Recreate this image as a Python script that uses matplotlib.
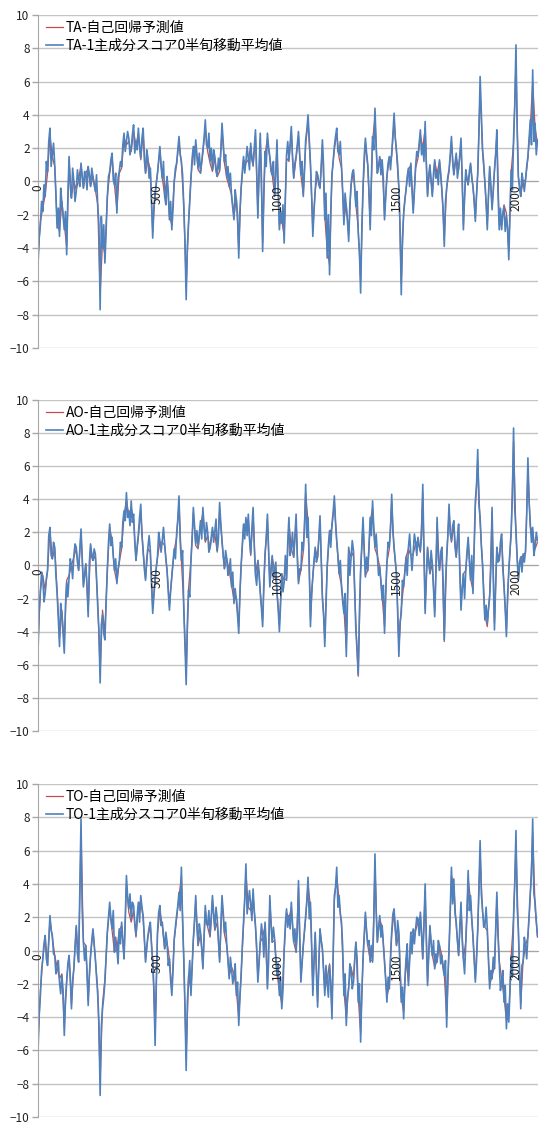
import matplotlib
matplotlib.use('Agg')
import matplotlib.pyplot as plt
import numpy as np

plt.rcParams['font.family'] = ['Noto Sans CJK JP', 'DejaVu Sans']

# index step of the values
blue_step = 5
red_step = 10

ta_blue = [
    -5.0, -3.4, -2.6, -1.2, -1.8, -0.2, -0.9, 1.2, 0.6, 2.4, 3.2, 0.9, 1.6, 2.3, 1.0, -0.8, -2.8, -1.6, -3.3, -0.4,
    -1.3, -2.1, -2.9, -1.8, -4.4, -0.9, 1.5, -0.3, -1.0, 0.8, 0.0, -1.2, -0.6, 0.7, 0.1, -0.3, 1.1, 0.3, -0.4, 0.6,
    0.5, -0.5, 0.9, 0.4, -0.3, 0.8, 0.3, -0.2, -0.6, 0.4, -1.5, -2.6, -7.7, -2.1, -4.0, -2.6, -4.9, -3.0, -1.0, 0.3,
    0.6, 1.3, 1.7, 0.1, -0.2, 0.5, -1.9, 0.2, 0.6, 1.2, 0.9, 2.2, 2.9, 1.8, 2.4, 3.0, 2.6, 1.6, 2.0, 2.8,
    3.4, 1.7, 2.4, 1.9, 3.2, 2.1, 1.4, 2.6, 3.2, 1.3, 0.5, 1.9, 1.4, 0.2, 0.8, -1.3, -3.4, -1.5, -0.8, -0.1,
    0.5, 1.3, 2.1, 0.9, 0.2, 1.2,
    -0.9, -1.4, 0.3, -0.6, -2.3, -1.2, -2.9, -1.6, 0.0, 0.8, 1.1, 1.9, 2.7, 1.6, 1.2, 0.4, -1.5, -3.6, -7.1, -3.9,
    -2.6, -1.2, 0.2, 1.4, 2.1, 1.0, 2.5, 1.6, 0.8, 1.7, 0.5, 1.2, 1.9, 2.6, 3.7, 2.2, 2.0, 2.9, 1.2, 2.0,
    0.7, 1.9, 1.5, 0.6, 0.3, 1.4, 0.7, 1.8, 3.5, 2.3, 1.2, 1.6, 0.2, 0.9, -0.3, 0.5, -0.9, -1.6, -2.3, -0.5,
    -1.1, -2.0, -4.6, -1.7, -0.4, 0.6, 1.5, 0.5, 1.2, 2.1, 1.4, 0.7, 2.3, 1.3, 1.0, 2.0, 3.1, 0.6, -2.2, 0.8,
    2.9, 0.2, -4.2, -0.6, 1.8, 0.9, 2.9, 2.0, 1.5, 0.6, 0.4, 1.2, -0.9, 0.3, 2.5, -0.6, -2.9, -1.8, -2.5, -1.4,
    -3.7, -1.0,
    1.6, 2.4, 1.3, 2.2, 3.3, 1.4, 0.2, 1.1, 1.5, 2.2, 3.0, 1.6, 0.4, 1.2, -0.9, 0.6, 2.5, 3.1, 4.0, 2.6,
    1.1, -0.8, -3.3, -1.7, -0.6, 0.6, 0.4, -0.2, -0.4, 0.8, 2.5, 0.9, -2.3, -0.7, -4.6, -2.0, -5.6, -1.8, 0.4, 1.2,
    2.1, 2.7, 3.2, 1.8, 1.6, 2.4, 0.9, -0.6, -2.6, -0.7, -1.5, -2.4, -3.6, -1.4, -0.2, 0.5, 0.7, -0.3, -1.5, -0.6,
    -3.1, -4.2, -6.7, -2.9, -0.4, 1.5, 2.6, 1.7, 1.0, -0.6, -2.9, 0.2, 2.7, 1.9, 4.4, 2.1, 0.5, 0.9, 1.5, 0.4,
    1.3, 0.2, -2.3, -0.9, 0.3, 1.1, 1.5, 0.7, 1.7, 2.8, 4.1, 2.6, 1.9, 1.0, -0.4, -2.7, -6.8, -3.4, -2.0, -1.1,
    -0.5, 0.3, 0.8, -0.3, 1.1, -0.5,
    -1.9, -0.6, 0.9, 1.8, 1.5, 2.3, 3.1, 1.6, 2.2, 1.2, 3.6, 1.0, -0.9, 0.4, 1.0, 0.0, -0.9, 0.5, 1.3, 0.2,
    0.6, -0.2, 1.3, 0.5, -0.6, -1.6, -3.9, -1.2, -0.4, 0.3, 0.7, 1.6, 2.7, 1.2, 0.4, 1.1, 1.7, 0.2, 0.8, 1.6,
    2.6, 0.3, -2.9, -0.9, 0.7, 0.1, -0.2, 0.6, 1.1, 0.2, -0.3, -1.1, -2.4, -0.8, 0.5, 2.9, 6.3, 4.2, 2.0, 1.1,
    -0.1, -1.2, -2.9, -0.8, 0.9, -0.3, -1.7, -0.6, 0.7, 1.6, 3.1, -0.8, -2.9, -1.6, -2.9, -1.9, -1.5, -3.0, -2.1, -2.8,
    -4.7, -1.8, 0.7, -0.5, 2.6, 4.6, 8.2, 3.0, 0.3, -0.4, -0.9, 0.5, 0.0, -0.6, 0.1, 0.9, 1.5, 2.6, 3.7, 2.2,
    6.7, 2.4, 3.5, 1.6, 2.5,
]
ta_red = [
    -4.6, -2.4, -1.6, -0.8, 0.5, 2.8, 1.5, 0.9, -2.5, -3.0,
    -1.2, -2.6, -3.9, 1.3, -0.9, 0.0, -0.5, 0.1, 1.0, -0.4,
    0.5, 0.8, -0.3, 0.3, -0.5, -1.4, -6.8, -3.6, -4.4, -0.9,
    0.5, 1.5, -0.2, -1.7, 0.5, 0.8, 2.6, 2.2, 2.4, 1.8,
    3.0, 2.2, 2.9, 1.3, 2.9, 0.5, 1.3, 0.7, -3.0, -0.7,
    0.5, 1.9, 0.2,
    -0.8, 0.3, -2.1, -2.6, 0.0, 1.0, 2.4, 1.1, -1.4, -6.3,
    -2.4, 0.2, 1.9, 2.2, 0.7, 0.5, 1.7, 3.3, 1.8, 1.1,
    0.6, 1.4, 0.3, 0.6, 3.1, 1.1, 0.2, -0.3, -0.8, -2.1,
    -1.0, -4.1, -0.4, 1.3, 1.1, 1.3, 2.1, 0.9, 2.8, -2.0,
    2.6, -3.7, 1.6, 2.6, 1.4, 0.4, -0.8, 2.2, -2.6, -2.3,
    -3.3,
    1.4, 1.2, 3.0, 0.2, 1.4, 2.7, 0.4, -0.8, 2.2, 3.6,
    1.0, -3.0, -0.5, 0.4, -0.4, 2.2, -2.1, -4.1, -5.0, 0.4,
    1.9, 2.9, 1.4, 0.8, -2.3, -1.4, -3.2, -0.2, 0.6, -1.4,
    -2.8, -6.0, -0.4, 2.3, 0.9, -2.6, 2.4, 3.9, 0.5, 1.4,
    1.2, -2.1, 0.3, 1.4, 1.5, 3.7, 1.7, -0.4, -6.1, -1.8,
    -0.5, 0.7, 1.0,
    -1.7, 0.8, 1.4, 2.8, 2.0, 3.2, -0.8, 0.9, -0.8, 1.2,
    0.5, 1.2, -0.5, -3.5, -0.4, 0.6, 2.4, 0.4, 1.5, 0.7,
    2.3, -2.6, 0.6, -0.2, 1.0, -0.3, -2.2, 0.5, 5.6, 1.8,
    -0.1, -2.6, 0.8, -1.5, 0.6, 2.8, -2.6, -2.6, -1.4, -1.9,
    -4.2, 0.6, 2.3, 7.3, 0.3, -0.8, 0.0, 0.1, 1.4, 3.3,
    6.0, 3.2, 2.3,
]

ao_blue = [
    -5.2, -2.8, -1.6, -0.4, -0.7, -2.2, -1.7, -0.8, -0.3, 1.8, 2.3, 0.6, 0.4, 1.4, 1.1, -0.6, -1.7, -3.2, -4.9, -2.3,
    -3.0, -4.1, -5.3, -2.4, -1.0, -1.9, -0.7, 0.4, 0.0, -0.8, 0.6, 1.3, 1.1, 0.2, -0.3, 0.9, 2.2, 0.4, -1.3, -0.6,
    0.1, -1.2, -3.1, 0.2, 1.3, 0.5, 0.3, 1.0, 0.7, -0.8, -2.5, -3.9, -7.1, -3.6, -3.0, -4.1, -4.5, -2.2, -0.3, 1.4,
    2.5, 1.2, 1.7, 0.6, -0.3, 0.4, -1.1, -0.2, 0.2, 1.4, 1.1, 2.6, 3.3, 2.7, 4.4, 2.9, 3.3, 2.4, 3.9, 2.6,
    3.1, 1.4, 0.3, 1.2, 1.9, 2.9, 3.7, 1.8, 0.9, -0.2, -0.9, 0.4, 1.1, 1.8, 0.9, -1.1, -2.9, -1.8, -0.9, -0.1,
    0.5, 2.0, 1.5, 0.8, 1.5, 2.3,
    1.3, 0.4, -0.3, -1.6, -2.7, -1.5, -0.7, 0.2, 1.0, 0.4, 1.9, 2.8, 4.2, 1.4, 0.3, 0.9, -2.7, -4.8, -7.2, -3.5,
    -1.5, -1.9, 0.3, 1.6, 3.5, 2.4, 1.3, 2.1, 1.1, 1.9, 2.7, 1.6, 3.5, 2.3, 1.5, 2.6, 2.0, 0.8, 1.1, 1.7,
    2.3, 1.4, 2.1, 2.8, 0.9, 1.6, 3.8, 2.5, 1.5, 0.6, -0.2, 0.9, 0.4, -0.6, -0.3, 0.4, -1.3, -0.4, -2.3, -1.4,
    -2.1, -3.0, -4.1, -1.6, 0.0, 1.3, 2.5, 1.6, 2.9, 1.8, 3.1, 1.6, 0.7, 2.2, 3.5, 1.2, -0.6, -1.2, 0.3, -0.4,
    -1.7, -2.6, -3.7, -1.1, 0.7, 1.6, 3.1, 0.9, -1.3, -0.2, 0.6, -0.8, -0.3, 0.2, -1.7, -2.6, -4.0, -2.4, -0.5, -1.6,
    -1.0, 0.6,
    -0.9, 1.4, 2.9, 0.6, 1.1, 2.0, 0.5, 1.7, 3.1, 0.4, -1.1, -0.2, -0.3, 1.4, 0.9, 2.2, 4.9, 1.7, 2.9, 0.1,
    -3.7, -1.6, -0.7, 0.3, 1.1, 0.2, 0.5, 1.6, 3.0, 0.6, -2.0, -2.9, -4.9, -2.4, -0.1, 1.2, 2.1, 1.1, 2.5, 3.2,
    4.2, 2.6, 1.5, 0.6, -0.5, 0.3, -1.3, -2.2, -2.9, -1.7, -5.5, -2.1, 1.1, -0.6, 0.5, 1.5, 0.9, -1.6, -3.9, -5.1,
    -6.6, -2.8, -0.3, 1.2, 2.9, 0.9, -0.7, 0.5, -0.3, 1.1, 2.9, 1.8, 3.9, 2.2, 1.1, 1.9, 0.7, -0.6, -0.1, -1.0,
    -2.1, -1.2, -4.1, -1.6, 0.2, 1.4, 1.1, 2.2, 4.3, 2.0, 1.1, 0.3, -0.5, -2.8, -5.5, -3.4, -2.9, -0.9, -1.3, -0.4,
    0.5, -0.6, 1.1, 1.9, 0.7, -0.3,
    0.8, 1.9, 1.4, 0.6, 1.7, 1.2, 0.9, 1.8, 4.9, 0.8, -2.9, -0.7, 1.1, 0.2, -0.5, 0.9, 0.1, -1.4, -3.1, -0.6,
    2.9, 0.4, -0.3, 0.8, 1.1, -0.8, -4.5, -1.2, 0.5, 1.8, 3.7, 1.9, 1.5, 2.4, 2.7, 1.1, 0.5, 1.6, 2.5, -0.4,
    -2.7, -1.4, -0.5, -2.0, -0.3, 0.8, 1.7, 0.3, -0.9, 0.6, -1.7, 1.2, 3.9, 4.8, 7.0, 3.6, 2.9, 1.2, 0.1, -1.8,
    -3.3, -2.4, -3.5, -2.6, -1.9, -0.2, 3.5, -0.8, -3.9, -1.2, 1.1, 0.2, 0.3, 1.4, 1.9, -0.2, -1.3, -2.6, -4.3, -1.8,
    -0.3, 0.9, 2.1, 4.2, 8.3, 3.4, 2.1, 0.4, -0.9, 0.2, 0.5, -0.4, 0.7, 0.2, 0.9, 3.1, 6.5, 3.8, 2.5, 1.4,
    2.3, 0.6, 1.1, 2.0, 1.5,
]
ao_red = [
    -4.7, -1.5, -0.6, -1.5, -0.3, 2.1, 0.4, 1.0, -1.5, -4.4,
    -2.7, -4.8, -0.9, -0.6, 0.0, 0.5, 1.0, -0.3, 2.0, -1.2,
    0.1, -2.8, 1.2, 0.3, 0.6, -2.3, -6.5, -2.7, -4.1, -0.3,
    2.3, 1.5, -0.3, -1.0, 0.2, 1.0, 3.0, 4.0, 3.0, 3.5,
    2.8, 0.3, 1.7, 3.3, 0.8, -0.8, 1.0, 0.8, -2.6, -0.8,
    0.5, 1.4, 1.4,
    1.2, -0.3, -2.4, -0.6, 0.9, 1.7, 3.8, 0.3, -2.4, -6.6,
    -1.4, 0.3, 3.2, 1.2, 1.0, 2.4, 3.2, 1.4, 1.8, 1.0,
    2.1, 1.9, 0.8, 3.4, 1.4, -0.2, 0.4, -0.3, -1.2, -2.1,
    -1.9, -3.7, 0.0, 2.3, 2.6, 2.8, 0.6, 3.2, -0.5, 0.3,
    -1.5, -3.3, 0.6, 2.8, -1.2, 0.5, -0.3, -1.5, -3.6, -0.5,
    -0.9,
    -0.8, 2.6, 1.0, 0.5, 2.8, -1.0, -0.3, 0.8, 4.4, 2.6,
    -3.3, -0.6, 1.0, 0.5, 2.7, -1.8, -4.4, -0.1, 1.9, 2.3,
    3.8, 1.4, -0.5, -1.2, -2.6, -5.0, 1.0, 0.5, 0.8, -3.5,
    -6.7, -0.3, 2.6, -0.6, -0.3, 2.6, 3.5, 1.0, 0.6, -0.1,
    -1.9, -3.7, 0.2, 1.0, 3.9, 1.0, -0.5, -5.0, -2.6, -1.2,
    0.5, 1.0, 0.6,
    0.7, 1.3, 1.5, 0.8, 4.4, -2.6, 1.0, -0.5, 0.1, -2.8,
    2.6, -0.3, 1.0, -4.6, 0.5, 3.3, 1.4, 2.4, 0.5, 2.3,
    -2.4, -0.5, -0.3, 1.5, -0.8, -1.5, 3.5, 6.3, 2.6, 0.1,
    -3.0, -3.7, -1.7, 3.2, -3.5, 1.0, 0.3, 1.7, -1.2, -3.9,
    -0.3, 1.9, 7.5, 1.9, -0.8, 0.5, 0.6, 0.8, 5.9, 2.3,
    2.1, 1.0, 1.4,
]

to_blue = [
    -6.1, -3.9, -2.7, -1.2, -0.5, 0.4, 0.9, -0.5, -0.9, 0.6, 2.1, 1.2, 0.9, -0.2, -0.3, -1.4, -1.1, -0.6, -1.9, -2.6,
    -1.5, -2.4, -5.1, -3.0, -1.9, -0.8, -0.3, -1.6, -3.5, -1.8, -1.1, 0.2, 1.5, -0.2, -0.7, 3.6, 7.9, 2.4, 0.5, -0.6,
    0.3, -1.2, -3.3, -1.4, -0.3, 0.6, 1.3, 0.4, -0.5, -1.6, -2.7, -4.3, -8.7, -4.6, -3.5, -2.8, -1.9, -0.4, 1.1, 2.0,
    2.9, 1.9, 1.3, 2.4, -0.1, 0.8, 0.1, -0.8, 1.3, 0.4, 1.7, 0.6, -0.5, 1.8, 4.5, 3.2, 2.5, 3.4, 1.9, 2.9,
    2.7, 1.6, 0.9, 2.1, 2.9, 1.7, 3.3, 2.6, 2.1, 0.8, -0.7, 0.2, 0.9, 1.4, 1.7, 0.3, -0.7, -2.2, -5.7, -2.0,
    1.1, 2.3, 2.7, 1.5, 1.7, 0.9,
    0.1, 1.1, 0.5, -0.9, -0.5, -1.8, -2.7, -1.2, 0.7, 1.4, 2.1, 2.7, 3.5, 2.4, 5.0, 1.8, -0.5, -3.4, -7.2, -3.1,
    -1.7, -0.6, -2.7, -1.0, 0.7, 1.8, 3.3, 1.4, 0.3, 1.6, 1.1, 0.2, -1.1, 0.9, 2.7, 1.6, 1.5, 2.4, 0.9, 2.0,
    3.3, 2.2, 1.3, 2.6, 1.9, 0.6, -0.7, 1.4, 3.3, 2.3, 1.1, 1.7, 0.3, -0.6, -1.7, -0.4, -1.1, -2.0, -1.5, -0.8,
    -2.7, -1.9, -4.5, -2.8, -1.5, 0.3, 1.7, 3.1, 5.2, 2.2, 2.9, 3.6, 2.7, 1.8, 3.7, 2.4, 1.5, 0.3, -1.9, -0.8,
    0.5, 1.6, 0.9, -0.4, 1.7, 0.3, -2.3, -0.6, 3.3, 1.6, 0.5, 1.4, 0.7, -0.4, -1.5, -0.8, -2.7, -1.6, -3.5, -2.4,
    0.0, 1.6,
    2.5, 1.4, 2.1, 1.3, 2.9, 1.6, 0.5, 1.3, -0.1, 1.1, 4.2, 0.9, -1.9, -0.8, 0.3, 1.2, 2.1, 3.0, 4.4, 1.9,
    2.9, 0.4, -2.7, -0.6, 1.1, -1.4, -3.4, -0.8, 1.3, 0.6, 0.1, -1.2, -2.7, -0.9, -1.9, -2.8, -0.9, -1.9, -4.1, -0.4,
    3.3, 3.8, 5.0, 2.6, 3.3, 2.2, 1.7, 0.2, -2.7, -1.4, -4.5, -2.8, -2.3, -0.8, -1.1, -2.3, -1.9, -0.6, 0.5, -0.4,
    -3.1, -2.0, -5.5, -2.6, -0.5, 0.9, 2.3, 1.1, 0.3, 0.6, -0.7, 0.3, -0.7, 1.6, 5.8, 2.3, 0.5, 1.4, 2.1, 0.8,
    1.5, 0.4, -0.7, -1.8, -3.1, -1.6, -2.3, -0.4, 1.1, 2.2, 2.5, 1.3, 0.3, 1.8, 1.1, -1.2, -3.1, -2.2, -4.1, -1.8,
    -0.5, 0.4, -2.1, -0.6, 1.1, -0.2,
    1.3, 0.4, 1.3, 2.0, 1.9, 0.9, 2.3, 1.1, -0.5, 1.6, 4.0, 0.6, -2.1, -0.2, 1.5, 0.4, -0.3, 0.6, -1.1, -0.2,
    -0.7, 0.6, 0.3, -0.8, -0.3, -1.1, -1.5, -0.6, -4.6, -1.6, 0.1, 2.4, 5.0, 2.8, 4.3, 2.2, 1.7, 0.6, -0.3, 1.4,
    2.9, 0.6, -0.5, -1.4, 0.5, 2.2, 4.8, 2.4, 3.3, 1.9, 0.9, -0.5, -1.9, -0.6, 1.3, 3.8, 6.6, 3.4, 2.5, 1.4,
    1.5, 2.6, 1.3, -0.6, -2.3, -1.2, -1.7, -0.4, -1.1, 1.3, 3.5, 0.8, -0.7, -2.4, -1.9, -1.2, -3.1, -2.1, -4.7, -3.2,
    -4.3, -2.4, -0.3, -1.6, 2.1, 4.1, 7.2, 2.6, 1.3, -1.4, -3.5, -0.9, -0.7, 0.8, 0.3, -0.5, 0.9, 2.1, 3.5, 4.6,
    7.9, 3.4, 2.9, 1.8, 0.9,
]
to_red = [
    -5.5, -2.4, -0.5, 0.8, -0.8, 1.9, 0.8, -0.3, -1.0, -1.7,
    -1.4, -4.6, -1.7, -0.3, -3.2, -1.0, 1.4, -0.6, 7.1, 0.5,
    0.3, -3.0, -0.3, 1.2, -0.5, -2.4, -7.8, -3.2, -1.7, 1.0,
    2.6, 1.2, -0.1, 0.1, 1.2, 1.5, -0.5, 4.0, 2.3, 1.7,
    2.4, 0.8, 2.6, 3.0, 1.9, -0.6, 0.8, 1.5, -0.6, -5.1,
    1.0, 2.4, 1.5,
    0.1, 0.5, -0.5, -2.4, 0.6, 1.9, 3.2, 4.5, -0.5, -6.5,
    -1.5, -2.4, 0.6, 3.0, 0.3, 1.0, -1.0, 2.4, 1.4, 0.8,
    3.0, 1.2, 1.7, -0.6, 3.0, 1.0, 0.3, -1.5, -1.0, -1.4,
    -2.4, -4.1, -1.4, 1.5, 4.7, 2.6, 2.4, 3.3, 1.4, -1.7,
    0.5, 0.8, 1.5, -2.1, 3.0, 0.5, 0.6, -1.4, -2.4, -3.2,
    0.0,
    2.3, 1.9, 2.6, 0.5, -0.1, 3.8, -1.7, 0.3, 1.9, 4.0,
    2.6, -2.4, 1.0, -3.1, 1.2, 0.1, -2.4, -1.7, -0.8, -3.7,
    3.0, 4.5, 3.0, 1.5, -2.4, -4.1, -2.1, -1.0, -1.7, 0.5,
    -2.8, -5.0, -0.5, 2.1, 0.3, -0.6, -0.6, 5.2, 0.5, 1.9,
    1.4, -0.6, -2.8, -2.1, 1.0, 2.3, 0.3, 1.0, -2.8, -3.7,
    -0.5, -1.9, 1.0,
    1.2, 1.2, 1.7, 2.1, -0.5, 3.6, -1.9, 1.4, -0.3, -1.0,
    -0.6, 0.3, -0.3, -1.4, -4.1, 0.1, 4.5, 3.9, 1.5, -0.3,
    2.6, -0.5, 0.5, 4.3, 3.0, 0.8, -1.7, 1.2, 5.9, 2.3,
    1.4, 1.2, -2.1, -1.5, -1.0, 3.2, -0.6, -1.7, -2.8, -4.2,
    -3.9, -0.3, 1.9, 6.5, 1.2, -3.2, -0.6, 0.3, 0.8, 3.2,
    7.1, 2.6, 0.8,
]

names = ['TA', 'AO', 'TO']
reds = [ta_red, ao_red, to_red]
blues = [ta_blue, ao_blue, to_blue]
# axes rectangles (left, bottom, width, height) in figure fraction
rects = [
    (0.0705, 0.6904, 0.928, 0.2963),
    (0.0705, 0.3497, 0.928, 0.2945),
    (0.0705, 0.0062, 0.928, 0.2963),
]

fig = plt.figure(figsize=(5.39, 11.24), dpi=100)

for name, red, blue, rect in zip(names, reds, blues, rects):
    ax = fig.add_axes(rect)
    ax.plot(np.arange(len(red)) * red_step, red, color='#C0504D', lw=0.9,
            label=name + '-自己回帰予測値', zorder=2)
    ax.plot(np.arange(len(blue)) * blue_step, blue, color='#4F81BD', lw=1.2,
            label=name + '-1主成分スコア0半旬移動平均値', zorder=2.1)

    ax.set_xlim(0, 2093)
    ax.set_ylim(-10, 10)
    ax.set_yticks(range(-10, 11, 2))
    ax.set_xticks(range(0, 2001, 500))
    ax.tick_params(axis='x', length=0, pad=2, labelrotation=90,
                   labelsize=8.5, labelcolor='#222222')
    ax.tick_params(axis='y', length=4, color='#a6a6a6', width=1,
                   labelsize=8.5, labelcolor='#222222', pad=2)
    ax.grid(axis='y', color='#c4c4c4', lw=1.0)
    ax.set_axisbelow(True)
    ax.xaxis.set_zorder(3)

    ax.spines['top'].set_visible(False)
    ax.spines['right'].set_visible(False)
    ax.spines['bottom'].set_position(('data', 0))
    ax.spines['bottom'].set_color('#a6a6a6')
    ax.spines['bottom'].set_zorder(0.6)
    ax.spines['left'].set_color('#a6a6a6')

    ax.legend(loc='upper left', bbox_to_anchor=(0.005, 1.0), frameon=False,
              fontsize=10, handlelength=1.2, handletextpad=0.2,
              labelspacing=0.3, borderaxespad=0.0)

fig.savefig('out.png', dpi=100)
